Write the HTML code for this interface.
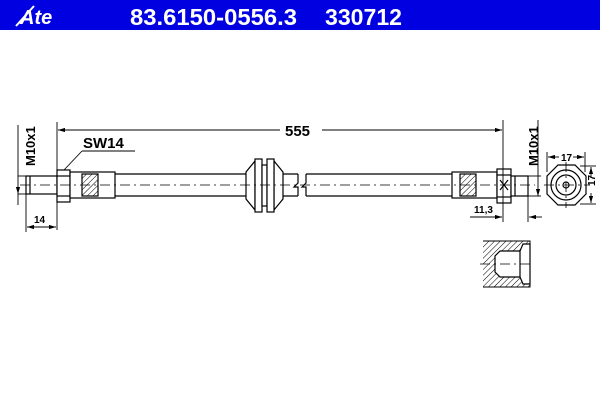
<!DOCTYPE html>
<html><head><meta charset="utf-8"><style>
html,body{margin:0;padding:0;background:#fff;width:600px;height:400px;overflow:hidden}
svg{display:block}
text{font-family:"Liberation Sans",Arial,sans-serif;font-weight:bold}
</style></head><body>
<svg width="600" height="400" viewBox="0 0 600 400" xmlns="http://www.w3.org/2000/svg">
<defs>
<marker id="a" viewBox="0 0 10 6" refX="10" refY="3" markerWidth="8" markerHeight="5" orient="auto-start-reverse"><path d="M0,0L10,3L0,6z" fill="#000"/></marker>
<pattern id="h" width="4" height="4" patternUnits="userSpaceOnUse" patternTransform="rotate(45)"><line x1="0" y1="0" x2="0" y2="4" stroke="#000" stroke-width="1"/></pattern>
</defs>
<rect x="0" y="0" width="600" height="30" fill="#0000e0"/>
<text x="20" y="24" fill="#fff" font-size="20" font-style="italic" font-family="Liberation Serif">Ate</text>
<line x1="16" y1="26" x2="34" y2="6" stroke="#fff" stroke-width="2"/>
<text x="130" y="25" fill="#fff" font-size="23" textLength="167" lengthAdjust="spacingAndGlyphs">83.6150-0556.3</text>
<text x="325" y="25" fill="#fff" font-size="23" textLength="77" lengthAdjust="spacingAndGlyphs">330712</text>

<g stroke="#000" stroke-width="1.2" fill="#fff">
<rect x="26" y="176" width="31" height="18"/>
<line x1="30" y1="176" x2="30" y2="194"/>
<rect x="57" y="170" width="13" height="32"/>
<line x1="57" y1="176" x2="70" y2="176"/><line x1="57" y1="196" x2="70" y2="196"/>
<rect x="70" y="172" width="45" height="26"/>
<rect x="82" y="174" width="16" height="22" fill="url(#h)"/>
<line x1="115" y1="174" x2="298" y2="174"/><line x1="115" y1="196" x2="298" y2="196"/>
<path d="M298,174 L298,183 L294,187 L298,187 L298,196" fill="none"/>
<path d="M306,174 L306,183 L302,187 L306,187 L306,196" fill="none"/>
<line x1="306" y1="174" x2="452" y2="174"/><line x1="306" y1="196" x2="452" y2="196"/>
<path d="M255,161 L246,172 L246,199 L255,210 Z"/>
<path d="M274,161 L283,172 L283,199 L274,210 Z"/>
<rect x="255" y="159" width="7" height="53"/>
<rect x="262" y="165" width="5" height="41"/>
<rect x="267" y="159" width="7" height="53"/>
<rect x="452" y="172" width="45" height="26"/>
<rect x="460" y="174" width="16" height="22" fill="url(#h)"/>
<rect x="497" y="169" width="14" height="34"/>
<line x1="497" y1="175" x2="511" y2="175"/><line x1="497" y1="197" x2="511" y2="197"/>
<path d="M500,180 L508,190 M508,180 L500,190" fill="none"/>
<rect x="511" y="176" width="17" height="20"/>
<line x1="515" y1="176" x2="515" y2="196"/>
<polygon points="558,165 575,165 586,176 586,194 575,205 558,205 547,194 547,176"/>
<circle cx="566" cy="185" r="15" fill="none"/>
<circle cx="566" cy="185" r="10" fill="none"/>
<circle cx="566" cy="185" r="3" fill="none"/>
<rect x="483" y="241" width="47" height="46" fill="url(#h)" stroke="none"/>
<path d="M483,241 L530,241 L530,287 L483,287" fill="none" stroke-width="1"/>
<path d="M500,251 L520,251 L523,244 L530,244 L530,284 L523,284 L520,277 L500,277 L495,272 L495,256 Z" stroke-width="1.2"/>
<line x1="520" y1="251" x2="520" y2="277"/>
</g>
<g stroke="#000" stroke-width="0.8" stroke-dasharray="10,4,2,4" fill="none">
<line x1="20" y1="185" x2="535" y2="185"/>
<line x1="544" y1="185" x2="590" y2="185"/>
<line x1="566" y1="162" x2="566" y2="208"/>
<line x1="480" y1="264" x2="534" y2="264"/>
</g>
<g stroke="#000" stroke-width="0.9" fill="none">
<line x1="57" y1="122" x2="57" y2="230"/>
<line x1="503" y1="120" x2="503" y2="222"/>
<line x1="58" y1="130" x2="280" y2="130" marker-start="url(#a)"/>
<line x1="322" y1="130" x2="502" y2="130" marker-end="url(#a)"/>
<line x1="18" y1="176" x2="26" y2="176"/><line x1="18" y1="194" x2="26" y2="194"/>
<line x1="18" y1="125" x2="18" y2="194" marker-end="url(#a)"/>
<line x1="18" y1="205" x2="18" y2="194"/>
<line x1="26" y1="194" x2="26" y2="232"/>
<line x1="27" y1="227" x2="56" y2="227" marker-start="url(#a)" marker-end="url(#a)"/>
<line x1="82" y1="151" x2="135" y2="151"/>
<line x1="82" y1="151" x2="64" y2="170"/>
<line x1="528" y1="176" x2="541" y2="176"/><line x1="528" y1="196" x2="541" y2="196"/>
<line x1="538" y1="120" x2="538" y2="196" marker-end="url(#a)"/>
<line x1="528" y1="196" x2="528" y2="222"/>
<line x1="470" y1="217" x2="502" y2="217" marker-end="url(#a)"/>
<line x1="542" y1="217" x2="529" y2="217" marker-end="url(#a)"/>
<line x1="547" y1="152" x2="547" y2="172"/><line x1="585" y1="152" x2="585" y2="172"/>
<line x1="559" y1="157" x2="548" y2="157" marker-end="url(#a)"/>
<line x1="573" y1="157" x2="584" y2="157" marker-end="url(#a)"/>
<line x1="580" y1="166" x2="596" y2="166"/><line x1="580" y1="204" x2="596" y2="204"/>
<line x1="591" y1="178" x2="591" y2="167" marker-end="url(#a)"/>
<line x1="591" y1="193" x2="591" y2="203" marker-end="url(#a)"/>
</g>
<g fill="#000">
<text x="285" y="136" font-size="15">555</text>
<text x="83" y="148" font-size="15">SW14</text>
<text x="34" y="223" font-size="10">14</text>
<text x="474" y="213" font-size="10">11,3</text>
<text x="561" y="161" font-size="10">17</text>
<text transform="translate(595,186) rotate(-90)" font-size="10">17</text>
<text transform="translate(35,166) rotate(-90)" font-size="13">M10x1</text>
<text transform="translate(538,166) rotate(-90)" font-size="13">M10x1</text>
</g>
</svg>
</body></html>
